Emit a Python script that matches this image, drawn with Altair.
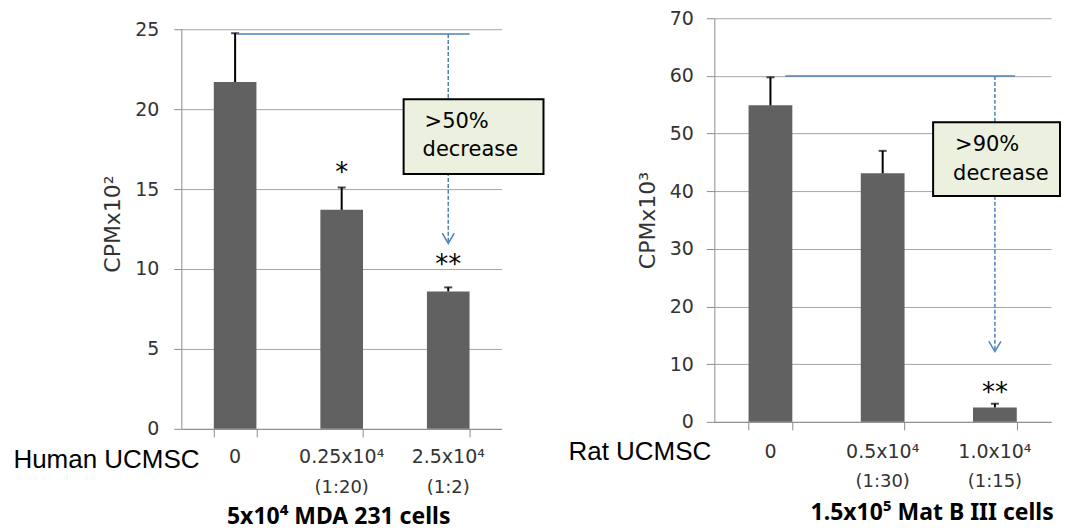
import altair as alt
import pandas as pd

# ---------------- data ----------------
left_groups = ["0", "0.25x10⁴", "2.5x10⁴"]
left_ratios = ["", "(1:20)", "(1:2)"]
left_means = [21.7, 13.7, 8.6]
left_errors = [3.05, 1.4, 0.25]
left_marks = ["", "*", "**"]
left_mark_y = [0, 15.5, 9.75]
left_ticks = [0, 5, 10, 15, 20, 25]
left_ref_value = 24.7
left_arrow_tip = 11.6

right_groups = ["0", "0.5x10⁴", "1.0x10⁴"]
right_ratios = ["", "(1:30)", "(1:15)"]
right_means = [54.9, 43.1, 2.5]
right_errors = [4.85, 3.9, 0.65]
right_marks = ["", "", "**"]
right_mark_y = [0, 0, 3.6]
right_ticks = [0, 10, 20, 30, 40, 50, 60, 70]
right_ref_value = 60.0
right_arrow_tip = 12.2

BAR = "#616161"
GRID = "#a6a6a6"
AX = "#8c8c8c"
BLUE = "#4f81bd"
BOXFILL = "#ebf1de"
one = pd.DataFrame({"a": [0]})


def panel(groups, ratios, means, errors, marks, mark_y, ticks, ytitle,
          cell_label, cells_title, ref_val, tip_val, box_lines, g):
    df = pd.DataFrame({
        "g": groups, "ratio": ratios, "mean": means,
        "upper": [m + e for m, e in zip(means, errors)],
        "mark": marks, "mark_y": mark_y,
    })
    xs = alt.X("g:N", sort=groups, title=None,
               scale=alt.Scale(paddingInner=g["pin"], paddingOuter=g["pout"]),
               axis=alt.Axis(labels=False, tickBand="extent", tickSize=8,
                             tickColor=AX, domainColor=AX))

    def ys(field):
        return alt.Y(field, title=ytitle,
                     scale=alt.Scale(domain=[0, g["ytop"]], nice=False),
                     axis=alt.Axis(values=ticks, grid=True, domain=g["domain"],
                                   gridColor=GRID, domainColor=AX, tickColor=AX, tickSize=8,
                                   labelFont="DejaVu Sans", labelFontSize=19,
                                   labelColor="#333333", labelPadding=g["lp"],
                                   titleFont="DejaVu Sans", titleFontSize=22,
                                   titleFontWeight="normal", titleColor="#333333",
                                   titlePadding=g["tp"]))

    base = alt.Chart(df)
    layers = []
    layers.append(base.mark_bar(color=BAR).encode(x=xs, y=ys("mean:Q")))
    if not g["domain"]:
        axl = pd.DataFrame({"lo": [ticks[0]], "hi": [ticks[-1]]})
        layers.append(alt.Chart(axl).mark_rule(color=AX, strokeWidth=1).encode(
            x=alt.value(0), y=ys("lo:Q"), y2="hi:Q"))
    layers.append(base.mark_rule(color="black", strokeWidth=2).encode(
        x=xs, y=ys("mean:Q"), y2="upper:Q"))
    layers.append(base.mark_tick(color="black", thickness=2, size=8).encode(
        x=xs, y=ys("upper:Q")))

    ann = pd.DataFrame({"g": [groups[2]], "top": [ref_val], "tip": [tip_val]})
    annc = alt.Chart(ann)
    layers.append(annc.mark_rule(color=BLUE, strokeWidth=1.5).encode(
        x=alt.value(g["lx1"]), x2=alt.value(g["lx2"]), y=ys("top:Q")))
    layers.append(annc.mark_rule(color=BLUE, strokeWidth=1.5, strokeDash=[4, 2]).encode(
        x=xs, y=ys("top:Q"), y2="tip:Q"))
    layers.append(annc.mark_point(shape="M-1,-1.7L0,0L1,-1.7", filled=False, size=144,
                                  stroke=BLUE, strokeWidth=1.5, opacity=1).encode(
        x=xs, y=ys("tip:Q")))

    boxc = alt.Chart(one)
    layers.append(boxc.mark_rect(fill=BOXFILL, stroke="black", strokeWidth=2).encode(
        x=alt.value(g["bx1"]), x2=alt.value(g["bx2"]),
        y=alt.value(g["by1"]), y2=alt.value(g["by2"])))
    for (tx, ty), line in zip(g["btext"], box_lines):
        layers.append(boxc.mark_text(align="left", baseline="middle", font="DejaVu Sans",
                                     fontSize=21, color="black").encode(
            x=alt.value(tx), y=alt.value(ty), text=alt.value(line)))

    layers.append(base.transform_filter("datum.mark != ''").mark_text(
        font="DejaVu Sans", fontSize=26, baseline="alphabetic", color="black").encode(
        x=xs, y=ys("mark_y:Q"), text="mark:N"))

    layers.append(base.mark_text(font="DejaVu Sans", fontSize=19, baseline="middle",
                                 color="#333333").encode(
        x=xs, y=alt.value(g["l1"]), text="g:N"))
    layers.append(base.transform_filter("datum.ratio != ''").mark_text(
        font="DejaVu Sans", fontSize=18, baseline="middle", color="#333333").encode(
        x=xs, y=alt.value(g["l2"]), text="ratio:N"))

    layers.append(boxc.mark_text(align="left", baseline="middle", font="Liberation Sans",
                                 fontSize=26, color="black").encode(
        x=alt.value(g["cx"]), y=alt.value(g["cy"]), text=alt.value(cell_label)))
    layers.append(boxc.mark_text(align="center", baseline="middle", font="Noto Sans",
                                 fontSize=23, fontWeight="bold", color="black").encode(
        x=alt.value(g["tx"]), y=alt.value(g["ty"]), text=alt.value(cells_title)))

    return alt.layer(*layers).properties(width=g["W"], height=g["H"])


left_geo = dict(W=320, H=411, ytop=25.6875, domain=False, pin=0.6, pout=0.3, lp=15, tp=10,
                lx1=55, lx2=288, bx1=222, bx2=362, by1=81, by2=156,
                btext=[(243, 104), (241, 132)], l1=439, l2=470,
                cx=-168.6, cy=442, tx=157, ty=499)
right_geo = dict(W=337, H=404, ytop=70, domain=True, pin=0.61, pout=0.305, lp=13, tp=10,
                 lx1=71, lx2=301, bx1=219, bx2=346, by1=104, by2=178,
                 btext=[(241, 127), (239, 156)], l1=434, l2=464,
                 cx=-146, cy=434, tx=218, ty=495)

left = panel(left_groups, left_ratios, left_means, left_errors, left_marks, left_mark_y,
             left_ticks, "CPMx10²", "Human UCMSC", "5x10⁴ MDA 231 cells",
             left_ref_value, left_arrow_tip, [">50%", "decrease"], left_geo)
right = panel(right_groups, right_ratios, right_means, right_errors, right_marks, right_mark_y,
              right_ticks, "CPMx10³", "Rat UCMSC", "1.5x10⁵ Mat B III cells",
              right_ref_value, right_arrow_tip, [">90%", "decrease"], right_geo)

chart = alt.hconcat(left, right, spacing=24).properties(
    padding={"left": 5, "top": 1, "right": 0, "bottom": 6}
).configure_view(stroke=None)

chart.save("out.html", embed_options={"renderer": "svg", "actions": False})
